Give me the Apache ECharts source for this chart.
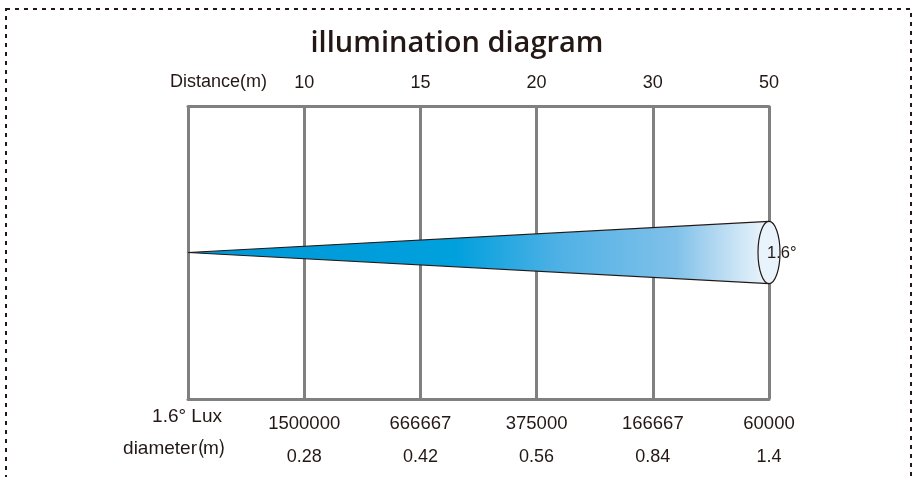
<!DOCTYPE html>
<html>
<head>
<meta charset="utf-8">
<script src="https://cdn.jsdelivr.net/npm/echarts@6/dist/echarts.min.js"></script>
<style>
html,body{margin:0;padding:0;background:#fff;}
#chart{width:914px;height:477px;}
</style>
</head>
<body>
<div id="chart"></div>
<script>
// ---- data ----
const titleText = 'illumination diagram';
const distanceLabel = 'Distance(m)';
const distances = ['10', '15', '20', '30', '50'];
const luxLabel = '1.6° Lux';
const luxValues = ['1500000', '666667', '375000', '166667', '60000'];
const diameterLabel = 'diameter（m）';
const diameters = ['0.28', '0.42', '0.56', '0.84', '1.4'];
const beamAngle = '1.6°';
const coneHalfHeight = 0.212; // schematic half height of the beam at the far end (axis units)

const chart = echarts.init(document.getElementById('chart'));
const grey = '#808080';
const ink = '#231815';
const font = 'Liberation Sans, Arial, sans-serif';

// split the diameter label so the full-width brackets sit tight as in the reference
const dm = diameterLabel.match(/^(.*?)（(.*)）$/);
const diamParts = dm ? [dm[1], '（', dm[2], '）'] : [diameterLabel, '', '', ''];

chart.setOption({
  backgroundColor: '#fff',
  animation: false,
  title: {
    text: titleText,
    left: 'center',
    top: 24,
    textStyle: { fontFamily: 'Open Sans', fontSize: 29, fontWeight: 600, color: ink }
  },
  grid: { left: 188, right: 145, top: 106, bottom: 78, show: false },
  xAxis: [
    {
      type: 'value', position: 'top', min: 0, max: distances.length, interval: 1,
      axisLine: { show: true, onZero: false, lineStyle: { color: grey, width: 3 } },
      axisTick: { show: false },
      splitLine: { show: true, lineStyle: { color: grey, width: 3 } },
      axisLabel: {
        margin: 14, fontFamily: font, fontSize: 18, color: ink,
        formatter: v => (v >= 1 ? distances[v - 1] : '')
      }
    },
    {
      type: 'value', position: 'bottom', min: 0, max: distances.length, interval: 1,
      axisLine: { show: true, onZero: false, lineStyle: { color: grey, width: 3 } },
      axisTick: { show: false },
      splitLine: { show: false },
      axisLabel: {
        margin: 15, fontFamily: font, fontSize: 18, color: ink,
        formatter: v => (v >= 1 ? '{a|' + luxValues[v - 1] + '}\n{b|' + diameters[v - 1] + '}' : ''),
        rich: {
          a: { fontFamily: font, fontSize: 18.5, color: ink, lineHeight: 20 },
          b: { fontFamily: font, fontSize: 18, color: ink, lineHeight: 46 }
        }
      }
    }
  ],
  yAxis: { type: 'value', min: -1, max: 1, show: false },
  graphic: [
    { type: 'rect', shape: { x: 6, y: 9, width: 905, height: 500 }, style: { fill: 'none', stroke: ink, lineWidth: 2, lineDash: [4, 5] }, silent: true },
    { type: 'text', style: { x: 170, y: 82, text: distanceLabel, font: '18px ' + font, fill: ink, align: 'left', verticalAlign: 'middle' } },
    { type: 'text', style: { x: 222, y: 417, text: luxLabel, font: '19px ' + font, fill: ink, align: 'right', verticalAlign: 'middle' } },
    { type: 'text', style: { x: 197, y: 449, text: diamParts[0], font: '19px ' + font, fill: ink, align: 'right', verticalAlign: 'middle' } },
    { type: 'text', style: { x: 207, y: 448, text: diamParts[1], font: '22px ' + font, fill: ink, align: 'right', verticalAlign: 'middle' } },
    { type: 'text', style: { x: 203, y: 449, text: diamParts[2], font: '19px ' + font, fill: ink, align: 'left', verticalAlign: 'middle' } },
    { type: 'text', style: { x: 216, y: 448, text: diamParts[3], font: '22px ' + font, fill: ink, align: 'left', verticalAlign: 'middle' } }
  ],
  series: [{
    type: 'custom',
    coordinateSystem: 'cartesian2d',
    data: [[0, 0, distances.length, coneHalfHeight]],
    renderItem: function (params, api) {
      const apex = api.coord([api.value(0), api.value(1)]);
      const top = api.coord([api.value(2), api.value(3)]);
      const bot = api.coord([api.value(2), -api.value(3)]);
      const cy = (top[1] + bot[1]) / 2;
      const ry = (bot[1] - top[1]) / 2;
      const rx = 11;
      return {
        type: 'group',
        children: [
          {
            type: 'polygon',
            shape: { points: [apex, top, bot] },
            style: {
              fill: new echarts.graphic.LinearGradient(apex[0], 0, top[0], 0, [
                { offset: 0, color: '#0098d8' },
                { offset: 0.46, color: '#00a0dd' },
                { offset: 0.64, color: '#50b1e5' },
                { offset: 0.84, color: '#80c1ea' },
                { offset: 0.9, color: '#acd5f0' },
                { offset: 1, color: '#eef6fc' }
              ], true),
              stroke: null
            }
          },
          { type: 'polyline', shape: { points: [top, apex, bot] }, style: { stroke: ink, lineWidth: 1.2, fill: null } },
          { type: 'ellipse', shape: { cx: top[0], cy: cy, rx: rx, ry: ry }, style: { fill: '#e8f3fb', stroke: ink, lineWidth: 1.2 } },
          { type: 'text', style: { x: top[0] - 2, y: cy + 1, text: beamAngle, font: '16.5px ' + font, fill: ink, align: 'left', verticalAlign: 'middle' } }
        ]
      };
    }
  }]
});
</script>
</body>
</html>
